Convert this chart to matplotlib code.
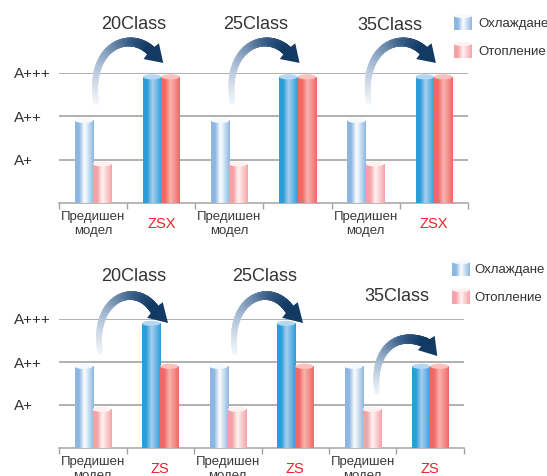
"""Energy class comparison: previous model vs ZSX / ZS, cooling and heating."""
import numpy as np
import matplotlib
matplotlib.use("Agg")
import matplotlib.pyplot as plt
from matplotlib.colors import LinearSegmentedColormap, to_rgb
from matplotlib.patches import Ellipse, Polygon, Rectangle
from matplotlib.collections import LineCollection
from matplotlib.transforms import ScaledTranslation

plt.rcParams["font.family"] = ["Liberation Sans", "DejaVu Sans"]

# ---- data -----------------------------------------------------------------
levels = [1, 2, 3]
level_labels = ["A+", "A++", "A+++"]
series_names = ["Охлаждане", "Отопление"]

top_labels = ["Предишен\nмодел", "ZSX", "Предишен\nмодел", "", "Предишен\nмодел", "ZSX"]
top_cooling = [1.9, 2.9, 1.9, 2.9, 1.9, 2.9]
top_heating = [0.9, 2.9, 0.9, 2.9, 0.9, 2.9]
top_classes = ["20Class", "25Class", "35Class"]

bottom_labels = ["Предишен\nмодел", "ZS", "Предишен\nмодел", "ZS", "Предишен\nмодел", "ZS"]
bottom_cooling = [1.9, 2.9, 1.9, 2.9, 1.9, 1.9]
bottom_heating = [0.9, 1.9, 0.9, 1.9, 0.9, 1.9]
bottom_classes = ["20Class", "25Class", "35Class"]

# ---- styling ----------------------------------------------------------------
W, H, DPI = 547, 476, 100
TEXT = "#333333"
RED_TEXT = "#e8242c"
GRID = "#a3a3a3"
BAR_W = 0.27

def cyl_cmap(edge, light):
    return LinearSegmentedColormap.from_list(
        "c", [(0, edge), (0.22, edge), (0.5, light), (1, edge)])

OLD_BLUE = cyl_cmap("#8db6e3", "#ffffff")
OLD_RED = cyl_cmap("#f4a2a7", "#fff4f4")
NEW_BLUE = cyl_cmap("#2a9edb", "#a9cfee")
NEW_RED = cyl_cmap("#ef6867", "#f9b4ae")
ARROW = LinearSegmentedColormap.from_list(
    "a", [(0, "#f2f5f9"), (0.35, "#9db4cf"), (0.75, "#3a5f88"), (1, "#123a63")])
GRAD = np.linspace(0, 1, 128).reshape(1, -1)


def lighten(c, f):
    r = np.array(to_rgb(c))
    return tuple(r + (1 - r) * f)


def cylinder(ax, x0, w, y0, y1, cmap, cap_h, z=3):
    rect = Rectangle((x0, y0), w, y1 - y0, facecolor=cmap(0.0),
                     edgecolor="none", zorder=z)
    ax.add_patch(rect)
    im = ax.imshow(GRAD, cmap=cmap, extent=(x0, x0 + w, y0, y1),
                   aspect="auto", zorder=z, interpolation="bilinear")
    im.set_clip_path(rect)
    cap = cmap(0.55)
    ax.add_patch(Ellipse((x0 + w / 2, y1), w, cap_h,
                         facecolor=lighten(cap[:3], 0.25), edgecolor="none",
                         zorder=z + 0.1))


def curved_arrow(ax, p0, p1, p2, p3, tip, w0=4.0, w1=7.4, head=11.0):
    pts = np.array([p0, p1, p2, p3], float)
    t = np.linspace(0, 1, 90)[:, None]
    curve = ((1 - t) ** 3 * pts[0] + 3 * (1 - t) ** 2 * t * pts[1]
             + 3 * (1 - t) * t ** 2 * pts[2] + t ** 3 * pts[3])
    segs = np.stack([curve[:-1], curve[1:]], axis=1)
    tt = np.linspace(0, 1, len(segs))
    lc = LineCollection(segs, colors=ARROW(tt), linewidths=w0 + (w1 - w0) * tt,
                        capstyle="round", zorder=5, clip_on=False)
    ax.add_collection(lc)
    # head, built in display pixels so that it keeps its shape
    b = ax.transData.transform(p3)
    e = ax.transData.transform(tip)
    d = (e - b) / np.hypot(*(e - b))
    n = np.array([-d[1], d[0]])
    tri = np.array([b + n * head, e, b - n * head, b - d * 1.5])
    tri = ax.transData.inverted().transform(tri)
    ax.add_patch(Polygon(tri, closed=True, facecolor="#123a63",
                         edgecolor="none", zorder=6, clip_on=False))


def draw_panel(ax, labels, cooling, heating, classes, class_pos, arrows):
    x = np.arange(len(labels))
    ax.set_axisbelow(True)
    b1 = ax.bar(x - BAR_W / 2, cooling, BAR_W, color="none", zorder=3)
    b2 = ax.bar(x + BAR_W / 2, heating, BAR_W, color="none", zorder=3)
    for i, (r1, r2) in enumerate(zip(b1, b2)):
        new = i % 2 == 1
        for r, cm in ((r1, NEW_BLUE if new else OLD_BLUE),
                      (r2, NEW_RED if new else OLD_RED)):
            cylinder(ax, r.get_x(), r.get_width(), 0, r.get_height(), cm, 0.12)

    ax.set_xlim(-0.5, len(labels) - 0.5)
    ax.set_ylim(0, 3)
    for s in ("left", "right", "top"):
        ax.spines[s].set_visible(False)
    ax.spines["bottom"].set_color(GRID)
    ax.spines["bottom"].set_linewidth(1.1)

    ax.set_yticks(levels, level_labels)
    ax.tick_params(axis="y", length=0, pad=32.4, labelsize=11, labelcolor=TEXT)
    for lab in ax.get_yticklabels():
        lab.set_horizontalalignment("left")
    ax.grid(axis="y", color=GRID, linewidth=1.2)

    ax.set_xticks(np.arange(len(labels) + 1) - 0.5, [""] * (len(labels) + 1))
    ax.tick_params(axis="x", which="major", length=4, width=1, color=GRID)
    ax.set_xticks(x, labels, minor=True)
    ax.tick_params(axis="x", which="minor", length=0, pad=6, labelsize=9.5,
                   labelcolor="#3a3a3a")
    shift = ScaledTranslation(0, -4 / 72, ax.figure.dpi_scale_trans)
    for lab in ax.get_xticklabels(minor=True):
        if lab.get_text().startswith("Z"):
            lab.set_color(RED_TEXT)
            lab.set_fontsize(10.5)
            lab.set_transform(lab.get_transform() + shift)

    for name, (cx, cy) in zip(classes, class_pos):
        ax.text(cx, cy, name, ha="center", va="center", fontsize=13,
                color=TEXT, clip_on=False)
    for a in arrows:
        curved_arrow(ax, *a)


def legend(lax, x0, ys, tx):
    for yc, cm, name in zip(ys, (OLD_BLUE, OLD_RED), series_names):
        cylinder(lax, x0, 18, yc + 7, yc - 7, cm, 4, z=3)
        lax.text(tx, yc + 1, name, ha="left", va="center", fontsize=9.5,
                 color=TEXT)


fig = plt.figure(figsize=(W / DPI, H / DPI), dpi=DPI)

ax_top = fig.add_axes([59 / W, (H - 203) / H, 409 / W, 130.5 / H])
draw_panel(
    ax_top, top_labels, top_cooling, top_heating, top_classes,
    [(0.59, 4.11), (2.38, 4.11), (4.35, 4.09)],
    [((0.044 + k, 2.32), (-0.074 + k, 3.63), (0.544 + k, 3.98),
      (0.853 + k, 3.49), (1.029 + k, 3.22)) for k in (0, 2, 4)],
)

ax_bot = fig.add_axes([59 / W, 28 / H, 405 / W, 129 / H])
draw_panel(
    ax_bot, bottom_labels, bottom_cooling, bottom_heating, bottom_classes,
    [(0.61, 3.98), (2.55, 3.98), (4.51, 3.53)],
    [((0.107 + k, 2.233), (-0.011 + k, 3.488), (0.63 + k, 3.907),
      (0.922 + k, 3.209), (1.115 + k, 2.907)) for k in (0, 2)]
    + [((4.211, 1.302), (4.137, 2.279), (4.496, 2.744),
        (4.941, 2.442), (5.104, 2.140))],
)

lax = fig.add_axes([0, 0, 1, 1], zorder=-1)
lax.set_xlim(0, W)
lax.set_ylim(H, 0)
lax.axis("off")
legend(lax, 454, (23, 51), 478)
legend(lax, 452, (269, 297), 474)
lax.set_xlim(0, W)
lax.set_ylim(H, 0)

fig.savefig("out.png", dpi=DPI)
